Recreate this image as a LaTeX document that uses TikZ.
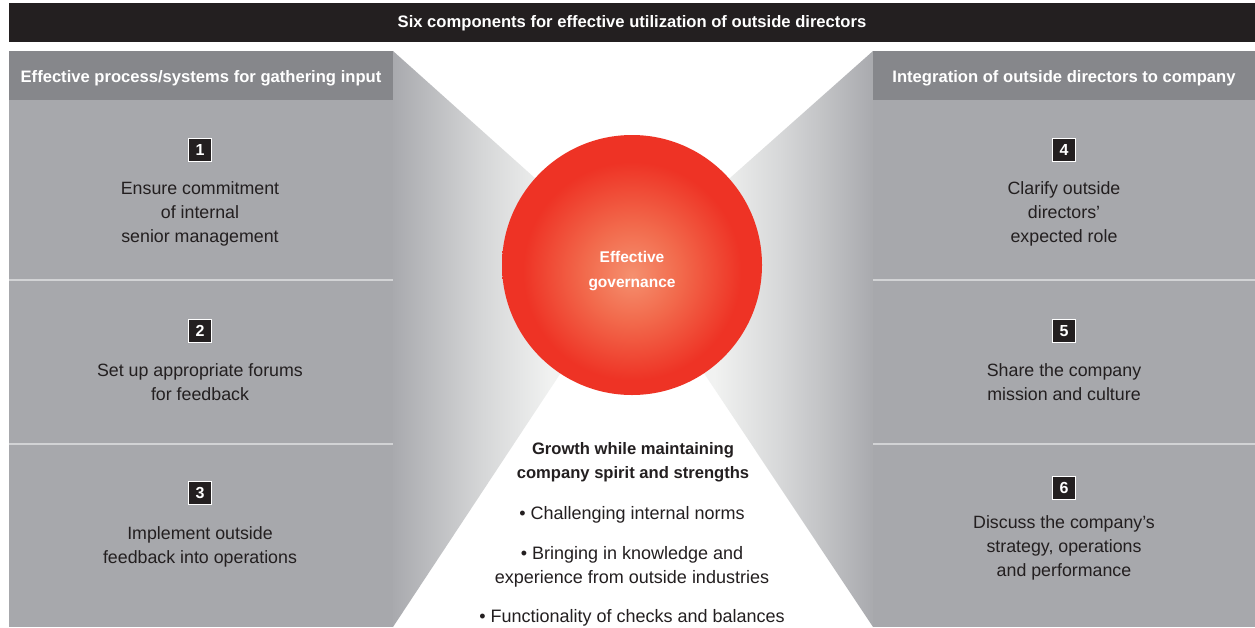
\documentclass[tikz,border=0pt]{standalone}
\usepackage{fontspec}
\setmainfont{Liberation Sans}
\definecolor{dark}{HTML}{231F20}
\definecolor{hdr}{HTML}{86878B}
\definecolor{body}{HTML}{A7A8AC}
\definecolor{divl}{HTML}{D2D3D5}
\definecolor{wg}{HTML}{A9AAAE}
\definecolor{wm}{HTML}{D6D7D8}
\definecolor{wl}{HTML}{F1F2F1}
\definecolor{bc}{HTML}{F5906F}
\definecolor{bm}{HTML}{F26B4D}
\definecolor{br}{HTML}{EE3325}
\pgfdeclarehorizontalshading{wedgeL}{100bp}{color(0bp)=(wg); color(25bp)=(wg); color(44bp)=(wm); color(58bp)=(wl); color(100bp)=(wl)}
\pgfdeclarehorizontalshading{wedgeR}{100bp}{color(0bp)=(wl); color(42bp)=(wl); color(56bp)=(wm); color(75bp)=(wg); color(100bp)=(wg)}
\pgfdeclareradialshading{ball}{\pgfpoint{0bp}{-2bp}}{color(0bp)=(bc); color(9bp)=(bm); color(21bp)=(br); color(25bp)=(br); color(50bp)=(br)}
\tikzset{
  numbox/.style={fill=dark, draw=white, line width=1.5pt, minimum size=23pt, inner sep=0pt,
    text=white, font=\bfseries\fontsize{16}{16}\selectfont},
  item/.style={align=center, text=dark, font=\fontsize{17.8}{24}\selectfont, inner sep=0pt},
  hdrtext/.style={text=white, font=\bfseries\fontsize{16.6}{20}\selectfont, inner sep=0pt},
  ctext/.style={align=center, text=dark, font=\fontsize{18}{24}\selectfont, inner sep=0pt},
  cbold/.style={align=center, text=dark, font=\bfseries\fontsize{16.6}{24}\selectfont, inner sep=0pt},
  divider/.style={draw=divl, line width=1.2pt}
}
\begin{document}
\begin{tikzpicture}[x=1pt,y=-1pt]
\useasboundingbox (0,0) rectangle (1255,627);
\fill[white] (0,0) rectangle (1255,627);
% wedges
\shade[shading=wedgeL] (393,51) -- (632,265) -- (393,627) -- cycle;
\shade[shading=wedgeR] (873,51) -- (632,265) -- (873,627) -- cycle;
% title bar
\fill[dark] (9,3) rectangle (1255,42);
\node[hdrtext] (title) at (632,23.5) {Six components for effective utilization of outside directors};
% left panel
\fill[hdr] (9,51) rectangle (393,100);
\fill[body] (9,100) rectangle (393,627);
\node[hdrtext] (lh) at (201,78.5) {Effective process/systems for gathering input};
\draw[divider] (9,280) -- (393,280);
\draw[divider] (9,444) -- (393,444);
% right panel
\fill[hdr] (873,51) rectangle (1255,100);
\fill[body] (873,100) rectangle (1255,627);
\node[hdrtext] (rh) at (1064,78.5) {Integration of outside directors to company};
\draw[divider] (873,280) -- (1255,280);
\draw[divider] (873,444) -- (1255,444);
% circle
\shade[shading=ball] (632,265) circle (130);
\node[align=center, text=white, font=\bfseries\fontsize{15.5}{25}\selectfont, inner sep=0pt] (eg) at (632,271) {Effective\\governance};
% left items
\node[numbox] (n1) at (200,150) {1};
\node[item] (t1) at (200,214) {Ensure commitment\\of internal\\senior management};
\node[numbox] (n2) at (200,331) {2};
\node[item] (t2) at (200,382) {Set up appropriate forums\\for feedback};
\node[numbox] (n3) at (200,493) {3};
\node[item] (t3) at (200,547) {Implement outside\\feedback into operations};
% right items
\node[numbox] (n4) at (1064,150) {4};
\node[item] (t4) at (1064,214) {Clarify outside\\directors’\\expected role};
\node[numbox] (n5) at (1064,331) {5};
\node[item] (t5) at (1064,382) {Share the company\\mission and culture};
\node[numbox] (n6) at (1064,488) {6};
\node[item] (t6) at (1064,548) {Discuss the company’s\\strategy, operations\\and performance};
% center text
\node[cbold] (g) at (633,462) {Growth while maintaining\\company spirit and strengths};
\node[ctext] (b1) at (632,515) {• Challenging internal norms};
\node[ctext] (b2) at (632,567) {• Bringing in knowledge and\\experience from outside industries};
\node[ctext] (b3) at (632,618) {• Functionality of checks and balances};
\end{tikzpicture}
\end{document}
